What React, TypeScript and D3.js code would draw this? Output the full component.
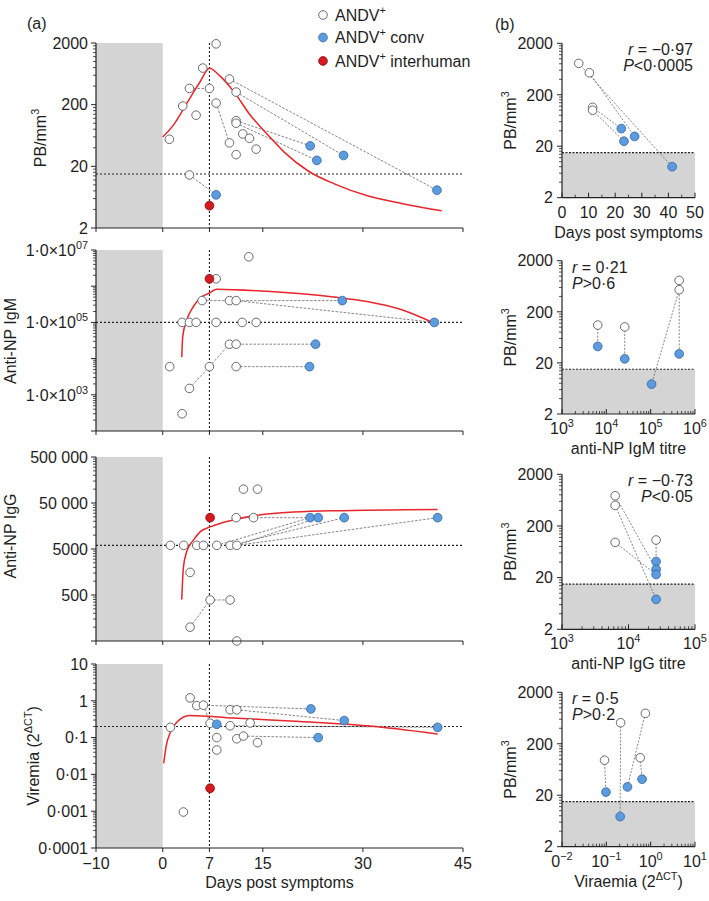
import React from 'react';
import * as d3 from 'd3';

const FONT = "'Liberation Sans', Arial, Helvetica, sans-serif";
const TXT = '#1e1e1e';
const OPEN_STROKE = '#5a5a5a';
const BLUE = '#5b9be0';
const BLUE_STROKE = '#2d5a90';
const RED = '#d71920';
const RED_STROKE = '#7a0000';
const GREY = '#d4d4d4';
const FIT = '#e8262b';

// ---------- Panel (a): days post symptoms ----------
const dayTicks = [-10, 0, 7, 15, 30, 45];
const dayTickLabels = ['\u221210', '0', '7', '15', '30', '45'];

// a1: PB/mm3
const pbOpenDays = [1, 3, 4, 5, 6, 7, 8, 8, 10, 11, 11, 11, 12, 13, 10, 11, 14, 4];
const pbOpenVals = [55, 190, 367, 135, 784, 367, 1940, 212, 520, 320, 110, 100, 67, 57, 48, 31, 38, 14.5];
const pbConvDays = [8, 22.1, 23.1, 27.1, 41.1];
const pbConvVals = [6.9, 43, 25, 30, 8.2];
const pbInterDays = [7];
const pbInterVals = [4.6];
const pbLinks = [
  [10, 520, 41.1, 8.2], [11, 320, 27.1, 30], [11, 110, 22.1, 43], [11, 100, 23.1, 25],
  [4, 14.5, 8, 6.9], [4, 367, 7, 367], [8, 212, 10, 48],
];
const pbFitDays = [0, 1.6, 3.6, 5.6, 7, 8.6, 10.6, 13.1, 15.8, 18.2, 21.8, 25.8, 30.8, 35.8, 41.8];
const pbFitVals = [60, 93, 210, 470, 780, 581, 332, 136, 64, 34, 16.8, 10.3, 6.6, 5.0, 3.8];

// a2: anti-NP IgM
const igmOpenDays = [12.9, 8, 5.9, 10, 11, 2.9, 4, 5, 8, 11.9, 14, 10, 11, 1.05, 7, 11, 4, 2.9];
const igmOpenVals = [6.5e6, 1.6e6, 4e5, 4e5, 4e5, 1e5, 1e5, 1e5, 1e5, 1e5, 1e5, 2.5e4, 2.5e4, 6e3, 6e3, 6e3, 1.5e3, 300];
const igmConvDays = [26.9, 40.7, 22.9, 22];
const igmConvVals = [4e5, 1e5, 2.5e4, 6e3];
const igmInterDays = [7];
const igmInterVals = [1.6e6];
const igmLinks = [
  [5.9, 4e5, 26.9, 4e5], [11, 4e5, 40.7, 1e5], [10, 2.5e4, 22.9, 2.5e4], [11, 6e3, 22, 6e3],
  [4, 1.5e3, 7, 6e3], [7, 6e3, 10, 2.5e4],
];
const igmFitDays = [2.85, 3.0, 3.6, 4.6, 5.6, 7, 8.1, 15.6, 25.6, 30.6, 35.6, 40.7];
const igmFitVals = [1.1e4, 4.1e4, 1.17e5, 2.75e5, 4.7e5, 6.5e5, 8.3e5, 7.2e5, 5e5, 3.8e5, 2.3e5, 9.5e4];

// a3: anti-NP IgG
const iggOpenDays = [12.1, 14.2, 11, 13.6, 1.15, 3.15, 5.1, 6.1, 8.1, 10.1, 11.1, 4.1, 7.1, 10.1, 4.1, 11.1];
const iggOpenVals = [1e5, 1e5, 2.4e4, 2.4e4, 6000, 6000, 6000, 6000, 6000, 6000, 6000, 1550, 390, 390, 100, 50];
const iggConvDays = [22.1, 23.3, 27.2, 41.2];
const iggConvVals = [2.4e4, 2.4e4, 2.4e4, 2.4e4];
const iggInterDays = [7.1];
const iggInterVals = [2.4e4];
const iggLinks = [
  [11, 2.4e4, 23.3, 2.4e4], [8.1, 6000, 22.1, 2.4e4], [10.1, 6000, 27.2, 2.4e4],
  [11.1, 6000, 41.2, 2.4e4], [11.1, 6000, 23.3, 2.4e4], [7.1, 390, 10.1, 390], [4.1, 100, 7.1, 390],
];
const iggFitDays = [2.85, 3.1, 3.6, 4.6, 5.6, 7.1, 10.6, 15.6, 25.6, 41.2];
const iggFitVals = [400, 2000, 4400, 7800, 11800, 15100, 21400, 28800, 33900, 36300];

// a4: viremia
const virOpenDays = [4.1, 5.1, 6.1, 10.1, 11.1, 7.1, 1.15, 10.1, 13.1, 8.1, 11.1, 12.1, 14.2, 8.1, 3.1];
const virOpenVals = [1.2, 0.74, 0.76, 0.57, 0.57, 0.245, 0.19, 0.21, 0.25, 0.1, 0.093, 0.11, 0.073, 0.046, 0.00095];
const virConvDays = [22.2, 27.2, 8.1, 41.2, 23.3];
const virConvVals = [0.6, 0.29, 0.23, 0.19, 0.1];
const virInterDays = [7.1];
const virInterVals = [0.0042];
const virLinks = [
  [6.1, 0.76, 22.2, 0.6], [11.1, 0.57, 27.2, 0.29], [12.1, 0.11, 23.3, 0.1], [4.1, 1.2, 5.1, 0.74],
  [6.1, 0.76, 7.1, 0.245], [10.1, 0.21, 41.2, 0.19],
];
const virFitDays = [0.15, 0.5, 1.2, 2.1, 4, 10.6, 20.6, 30.6, 41.2];
const virFitVals = [0.02, 0.057, 0.146, 0.26, 0.4, 0.34, 0.275, 0.21, 0.126];

// ---------- Panel (b) ----------
const b1OpenX = [6.3, 10.3, 11.5, 11.5];
const b1OpenY = [815, 535, 114, 100];
const b1ConvX = [22.3, 23.3, 27.3, 41.4];
const b1ConvY = [44, 25, 31, 8];
const b1Links = [[6.3, 815, 41.4, 8], [10.3, 535, 27.3, 31], [11.5, 114, 22.3, 44], [11.5, 100, 23.3, 25]];

const b2OpenX = [6.4e3, 2.6e4, 4.4e5, 4.4e5];
const b2OpenY = [110, 101, 822, 540];
const b2ConvX = [6.4e3, 2.6e4, 1.05e5, 4.4e5];
const b2ConvY = [42, 24, 7.7, 30];
const b2Links = [[6.4e3, 110, 6.4e3, 42], [2.6e4, 101, 2.6e4, 24], [4.4e5, 822, 4.4e5, 30], [4.4e5, 540, 1.05e5, 7.7]];

const b3OpenX = [6.3e3, 6.3e3, 6.3e3, 2.6e4];
const b3OpenY = [768, 500, 96, 107];
const b3ConvX = [2.6e4, 2.6e4, 2.6e4, 2.6e4];
const b3ConvY = [41, 29, 23, 7.6];
const b3Links = [[6.3e3, 768, 2.6e4, 29], [6.3e3, 500, 2.6e4, 7.6], [6.3e3, 96, 2.6e4, 23], [2.6e4, 107, 2.6e4, 41]];

const b4OpenX = [0.091, 0.21, 0.76, 0.58];
const b4OpenY = [96, 512, 780, 107];
const b4ConvX = [0.098, 0.205, 0.3, 0.64];
const b4ConvY = [23, 7.7, 29, 41];
const b4Links = [[0.091, 96, 0.098, 23], [0.21, 512, 0.205, 7.7], [0.76, 780, 0.3, 29], [0.58, 107, 0.64, 41]];

const pbTickVals = [2, 20, 200, 2000];
const pbThreshold = 15;

// ---------- helpers ----------
function logTicks(lo: number, hi: number, mant: number) {
  const majors: number[] = [];
  const minors: number[] = [];
  const e0 = Math.round(Math.log10(lo / mant));
  for (let i = 0; i < 20; i++) {
    const v = mant * Math.pow(10, e0 + i);
    if (v > hi * 1.001) break;
    majors.push(v);
    if (v < hi * 0.999) for (let k = 2; k <= 9; k++) minors.push(v * k);
  }
  return { majors, minors };
}

const Sup = ({ s }: { s: string }) => (
  <tspan dy={-7} fontSize="0.68em">{s}</tspan>
);

function Marker({ cx, cy, kind }: { cx: number; cy: number; kind: 'open' | 'conv' | 'inter' }) {
  if (kind === 'open') return <circle cx={cx} cy={cy} r={4.3} fill="#fff" stroke={OPEN_STROKE} strokeWidth={0.9} />;
  if (kind === 'conv') return <circle cx={cx} cy={cy} r={4.4} fill={BLUE} stroke={BLUE_STROKE} strokeWidth={0.7} />;
  return <circle cx={cx} cy={cy} r={4.4} fill={RED} stroke={RED_STROKE} strokeWidth={0.7} />;
}

const xA = d3.scaleLinear().domain([-10, 45]).range([96, 463]);

type PanelAProps = {
  top: number; bottom: number; lo: number; hi: number; mant: number;
  labels: { v: number; node: React.ReactNode }[];
  title: React.ReactNode; titleX: number; titleY: number;
  threshold: number;
  openD: number[]; openV: number[]; convD: number[]; convV: number[];
  interD: number[]; interV: number[]; links: number[][];
  fitD: number[]; fitV: number[]; xLabels: boolean;
};

function PanelA(p: PanelAProps) {
  const y = d3.scaleLog().domain([p.lo, p.hi]).range([p.bottom, p.top]);
  const { majors, minors } = logTicks(p.lo, p.hi, p.mant);
  const fitLine = d3.line<number>()
    .x((_, i) => xA(p.fitD[i]))
    .y((d) => y(d))
    .curve(d3.curveMonotoneX);
  const ax = xA(-10);
  return (
    <g>
      <rect x={xA(-10)} y={p.top} width={xA(0) - xA(-10)} height={p.bottom - p.top} fill={GREY} />
      <line x1={ax} x2={xA(45)} y1={y(p.threshold)} y2={y(p.threshold)} stroke="#222" strokeWidth={1.1} strokeDasharray="2,2" />
      <line x1={xA(7)} x2={xA(7)} y1={p.top} y2={p.bottom} stroke="#222" strokeWidth={1.1} strokeDasharray="2,2" />
      {p.links.map((l, i) => (
        <line key={i} x1={xA(l[0])} y1={y(l[1])} x2={xA(l[2])} y2={y(l[3])} stroke="#666" strokeWidth={0.8} strokeDasharray="2.5,1.5" />
      ))}
      <path d={fitLine(p.fitV) || ''} fill="none" stroke={FIT} strokeWidth={1.5} />
      {p.openD.map((d, i) => <Marker key={'o' + i} cx={xA(d)} cy={y(p.openV[i])} kind="open" />)}
      {p.convD.map((d, i) => <Marker key={'c' + i} cx={xA(d)} cy={y(p.convV[i])} kind="conv" />)}
      {p.interD.map((d, i) => <Marker key={'r' + i} cx={xA(d)} cy={y(p.interV[i])} kind="inter" />)}
      {/* y axis */}
      <line x1={ax} x2={ax} y1={p.top} y2={p.bottom} stroke="#222" strokeWidth={1.2} />
      {majors.map((v, i) => <line key={'M' + i} x1={ax - 5} x2={ax} y1={y(v)} y2={y(v)} stroke="#222" strokeWidth={1} />)}
      {minors.map((v, i) => <line key={'m' + i} x1={ax - 3} x2={ax} y1={y(v)} y2={y(v)} stroke="#222" strokeWidth={0.8} />)}
      {p.labels.map((l, i) => (
        <text key={'L' + i} x={ax - 8} y={y(l.v)} dy="0.36em" textAnchor="end" fontSize={16} fill={TXT}>{l.node}</text>
      ))}
      {/* x axis */}
      <line x1={ax} x2={xA(45)} y1={p.bottom} y2={p.bottom} stroke="#222" strokeWidth={1.2} />
      {dayTicks.map((t, i) => (
        <line key={'x' + i} x1={xA(t)} x2={xA(t)} y1={p.bottom} y2={p.bottom + 4} stroke="#222" strokeWidth={1} />
      ))}
      {p.xLabels && dayTicks.map((t, i) => (
        <text key={'xl' + i} x={xA(t)} y={p.bottom + 21} textAnchor="middle" fontSize={16} fill={TXT}>{dayTickLabels[i]}</text>
      ))}
      <text transform={`translate(${p.titleX},${p.titleY}) rotate(-90)`} textAnchor="middle" dy="0.36em" fontSize={16} fill={TXT}>{p.title}</text>
    </g>
  );
}

type PanelBProps = {
  top: number; bottom: number; log: boolean; xLo: number; xHi: number;
  xMajors: number[]; xMinors: number[]; xLabels: React.ReactNode[];
  title: React.ReactNode;
  r: string; P: React.ReactNode; right: boolean;
  openX: number[]; openY: number[]; convX: number[]; convY: number[]; links: number[][];
};

const BX0 = 562;
const BX1 = 695;

function PanelB(p: PanelBProps) {
  const x = p.log
    ? d3.scaleLog().domain([p.xLo, p.xHi]).range([BX0, BX1])
    : d3.scaleLinear().domain([p.xLo, p.xHi]).range([BX0, BX1]);
  const y = d3.scaleLog().domain([2, 2000]).range([p.bottom, p.top]);
  const yt = logTicks(2, 2000, 2);
  const ty = y(pbThreshold);
  const annX = p.right ? BX1 - 2 : BX0 + 10;
  return (
    <g>
      <rect x={BX0} y={ty} width={BX1 - BX0} height={p.bottom - ty} fill={GREY} />
      <line x1={BX0} x2={BX1} y1={ty} y2={ty} stroke="#222" strokeWidth={1.1} strokeDasharray="2,1.5" />
      {p.links.map((l, i) => (
        <line key={i} x1={x(l[0])} y1={y(l[1])} x2={x(l[2])} y2={y(l[3])} stroke="#666" strokeWidth={0.8} strokeDasharray="2,1.5" />
      ))}
      {p.openX.map((v, i) => <Marker key={'o' + i} cx={x(v)} cy={y(p.openY[i])} kind="open" />)}
      {p.convX.map((v, i) => <Marker key={'c' + i} cx={x(v)} cy={y(p.convY[i])} kind="conv" />)}
      <line x1={BX0} x2={BX0} y1={p.top} y2={p.bottom} stroke="#222" strokeWidth={1.2} />
      {yt.majors.map((v, i) => <line key={'M' + i} x1={BX0 - 5} x2={BX0} y1={y(v)} y2={y(v)} stroke="#222" strokeWidth={1} />)}
      {yt.minors.map((v, i) => <line key={'m' + i} x1={BX0 - 3} x2={BX0} y1={y(v)} y2={y(v)} stroke="#222" strokeWidth={0.8} />)}
      {pbTickVals.map((v, i) => (
        <text key={'yl' + i} x={BX0 - 9} y={y(v)} dy="0.36em" textAnchor="end" fontSize={16} fill={TXT}>{v}</text>
      ))}
      <line x1={BX0} x2={BX1} y1={p.bottom} y2={p.bottom} stroke="#222" strokeWidth={1.2} />
      {p.xMajors.map((v, i) => <line key={'X' + i} x1={x(v)} x2={x(v)} y1={p.bottom} y2={p.bottom - 5} stroke="#222" strokeWidth={1} />)}
      {p.xMinors.map((v, i) => <line key={'x' + i} x1={x(v)} x2={x(v)} y1={p.bottom} y2={p.bottom - 3} stroke="#222" strokeWidth={0.8} />)}
      {p.xMajors.map((v, i) => (
        <text key={'xl' + i} x={x(v)} y={p.bottom + 20} textAnchor="middle" fontSize={16} fill={TXT}>{p.xLabels[i]}</text>
      ))}
      <text x={(BX0 + BX1) / 2} y={p.bottom + 40} textAnchor="middle" fontSize={16} fill={TXT}>{p.title}</text>
      <text transform={`translate(510,${(p.top + p.bottom) / 2}) rotate(-90)`} textAnchor="middle" dy="0.36em" fontSize={16} fill={TXT}>
        PB/mm<Sup s="3" />
      </text>
      <text x={annX} y={p.top + 12} textAnchor={p.right ? 'end' : 'start'} fontSize={16} fill={TXT}>
        <tspan fontStyle="italic">r</tspan> = {p.r}
      </text>
      <text x={annX} y={p.top + 28} textAnchor={p.right ? 'end' : 'start'} fontSize={16} fill={TXT}>
        <tspan fontStyle="italic">P</tspan>{p.P}
      </text>
    </g>
  );
}

const logMinorsFor = (lo: number, hi: number) => logTicks(lo, hi, 1).minors;

export default function App() {
  const igmLabels = [
    { v: 1e7, node: <>1·0×10<Sup s="07" /></> },
    { v: 1e5, node: <>1·0×10<Sup s="05" /></> },
    { v: 1e3, node: <>1·0×10<Sup s="03" /></> },
  ];
  return (
    <svg width={709} height={901} style={{ position: 'absolute', left: 0, top: 0, background: '#fff' }} fontFamily={FONT}>
      <rect width={709} height={901} fill="#fff" />
      <text x={27} y={29} fontSize={16} fill={TXT}>(a)</text>
      <text x={495} y={30} fontSize={16} fill={TXT}>(b)</text>

      {/* legend */}
      <Marker cx={323} cy={15} kind="open" />
      <text x={335} y={15} dy="0.36em" fontSize={16} fill={TXT}>ANDV<Sup s="+" /></text>
      <Marker cx={323} cy={37.5} kind="conv" />
      <text x={335} y={37.5} dy="0.36em" fontSize={16} fill={TXT}>ANDV<Sup s="+" /><tspan dy={7}> conv</tspan></text>
      <Marker cx={323} cy={61} kind="inter" />
      <text x={335} y={61} dy="0.36em" fontSize={16} fill={TXT}>ANDV<Sup s="+" /><tspan dy={7}> interhuman</tspan></text>

      <PanelA top={43} bottom={228} lo={2} hi={2000} mant={2}
        labels={pbTickVals.map((v) => ({ v, node: String(v) }))}
        title={<>PB/mm<Sup s="3" /></>} titleX={40} titleY={138}
        threshold={pbThreshold}
        openD={pbOpenDays} openV={pbOpenVals} convD={pbConvDays} convV={pbConvVals}
        interD={pbInterDays} interV={pbInterVals} links={pbLinks}
        fitD={pbFitDays} fitV={pbFitVals} xLabels={false} />

      <PanelA top={250} bottom={431} lo={1e2} hi={1e7} mant={1}
        labels={igmLabels}
        title="Anti-NP IgM" titleX={10} titleY={341}
        threshold={1e5}
        openD={igmOpenDays} openV={igmOpenVals} convD={igmConvDays} convV={igmConvVals}
        interD={igmInterDays} interV={igmInterVals} links={igmLinks}
        fitD={igmFitDays} fitV={igmFitVals} xLabels={false} />

      <PanelA top={457} bottom={641} lo={50} hi={5e5} mant={50}
        labels={[
          { v: 5e5, node: '500 000' }, { v: 5e4, node: '50 000' }, { v: 5e3, node: '5000' }, { v: 500, node: '500' },
        ]}
        title="Anti-NP IgG" titleX={10} titleY={536}
        threshold={6000}
        openD={iggOpenDays} openV={iggOpenVals} convD={iggConvDays} convV={iggConvVals}
        interD={iggInterDays} interV={iggInterVals} links={iggLinks}
        fitD={iggFitDays} fitV={iggFitVals} xLabels={false} />

      <PanelA top={664} bottom={848} lo={1e-4} hi={10} mant={1}
        labels={[
          { v: 10, node: '10' }, { v: 1, node: '1' }, { v: 0.1, node: '0·1' }, { v: 0.01, node: '0·01' },
          { v: 0.001, node: '0·001' }, { v: 0.0001, node: '0·0001' },
        ]}
        title={<>Viremia (2<Sup s="ΔCT" /><tspan dy={7}>)</tspan></>} titleX={33} titleY={756}
        threshold={0.2}
        openD={virOpenDays} openV={virOpenVals} convD={virConvDays} convV={virConvVals}
        interD={virInterDays} interV={virInterVals} links={virLinks}
        fitD={virFitDays} fitV={virFitVals} xLabels={true} />
      <text x={xA(17.5)} y={888} textAnchor="middle" fontSize={16} fill={TXT}>Days post symptoms</text>

      <PanelB top={43.3} bottom={197.7} log={false} xLo={0} xHi={50}
        xMajors={[0, 10, 20, 30, 40, 50]} xMinors={[5, 15, 25, 35, 45]}
        xLabels={['0', '10', '20', '30', '40', '50']}
        title="Days post symptoms" r="−0·97" P="<0·0005" right={true}
        openX={b1OpenX} openY={b1OpenY} convX={b1ConvX} convY={b1ConvY} links={b1Links} />

      <PanelB top={260.7} bottom={414} log={true} xLo={1e3} xHi={1e6}
        xMajors={[1e3, 1e4, 1e5, 1e6]} xMinors={logMinorsFor(1e3, 1e6)}
        xLabels={[<>10<Sup s="3" /></>, <>10<Sup s="4" /></>, <>10<Sup s="5" /></>, <>10<Sup s="6" /></>]}
        title="anti-NP IgM titre" r="0·21" P=">0·6" right={false}
        openX={b2OpenX} openY={b2OpenY} convX={b2ConvX} convY={b2ConvY} links={b2Links} />

      <PanelB top={474.3} bottom={629.3} log={true} xLo={1e3} xHi={1e5}
        xMajors={[1e3, 1e4, 1e5]} xMinors={logMinorsFor(1e3, 1e5)}
        xLabels={[<>10<Sup s="3" /></>, <>10<Sup s="4" /></>, <>10<Sup s="5" /></>]}
        title="anti-NP IgG titre" r="−0·73" P="<0·05" right={true}
        openX={b3OpenX} openY={b3OpenY} convX={b3ConvX} convY={b3ConvY} links={b3Links} />

      <PanelB top={692.3} bottom={846.7} log={true} xLo={1e-2} xHi={10}
        xMajors={[1e-2, 1e-1, 1, 10]} xMinors={logMinorsFor(1e-2, 10)}
        xLabels={[<>0<Sup s="−2" /></>, <>10<Sup s="−1" /></>, <>10<Sup s="0" /></>, <>10<Sup s="1" /></>]}
        title={<>Viraemia (2<Sup s="ΔCT" /><tspan dy={7}>)</tspan></>} r="0·5" P=">0·2" right={false}
        openX={b4OpenX} openY={b4OpenY} convX={b4ConvX} convY={b4ConvY} links={b4Links} />
    </svg>
  );
}
